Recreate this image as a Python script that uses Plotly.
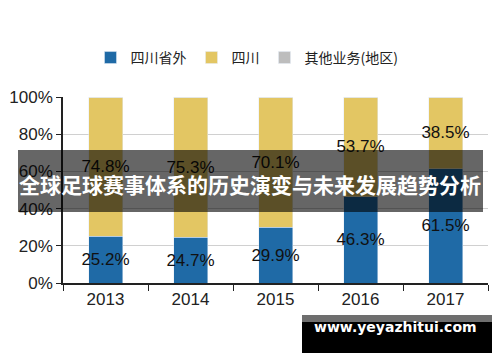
import plotly.graph_objects as go

years = ["2013", "2014", "2015", "2016", "2017"]
outside = [25.2, 24.7, 29.9, 46.3, 61.5]
sichuan = [74.8, 75.3, 70.1, 53.7, 38.5]
other = [0, 0, 0, 0, 0]
names = ["四川省外", "四川", "其他业务(地区)"]
title_text = "全球足球赛事体系的历史演变与未来发展趋势分析"
watermark = "www.yeyazhitui.com"

BLUE = "#1F6AA6"
YELLOW = "#E3C663"
GRAY = "#BDBDBD"
FONT = "Liberation Sans, Arial, sans-serif"

fig = go.Figure()
fig.add_trace(go.Bar(x=years, y=[v / 100 for v in outside], name=names[0], marker_color=BLUE,
                     text=[f"{v:.1f}%" for v in outside], textposition="inside", textangle=0,
                     constraintext="none", cliponaxis=False,
                     insidetextanchor="middle", textfont=dict(color="#111", size=17, family=FONT)))
fig.add_trace(go.Bar(x=years, y=[v / 100 for v in sichuan], name=names[1], marker_color=YELLOW,
                     text=[f"{v:.1f}%" for v in sichuan], textposition="inside", textangle=0,
                     constraintext="none", cliponaxis=False,
                     insidetextanchor="middle", textfont=dict(color="#111", size=17, family=FONT)))
fig.add_trace(go.Bar(x=years, y=other, name=names[2], marker_color=GRAY, hoverinfo="skip"))

fig.update_layout(
    barmode="stack",
    bargap=0.6,
    width=500, height=362,
    margin=dict(l=63, r=12, t=97, b=79, autoexpand=False),
    plot_bgcolor="white", paper_bgcolor="white",
    uniformtext=dict(mode=False),
    legend=dict(orientation="h", x=(247 - 63) / 425, xanchor="center", y=1.21, yanchor="middle",
                font=dict(family="Noto Sans CJK SC", size=14, color="#222"),
                itemwidth=30, traceorder="normal"),
    showlegend=True,
)
fig.update_yaxes(range=[0, 1], tickvals=[0, 0.2, 0.4, 0.6, 0.8, 1.0],
                 ticktext=["0%", "20%", "40%", "60%", "80%", "100%"],
                 showgrid=True, gridcolor="#D0D0D0", gridwidth=1,
                 showline=True, linecolor="#222", linewidth=1.5,
                 ticks="outside", ticklen=5, tickcolor="#222",
                 tickfont=dict(family=FONT, size=17, color="#222"), zeroline=False)
fig.update_xaxes(showline=True, linecolor="#222", linewidth=1.5,
                 ticks="outside", tickson="boundaries", ticklen=6, tickcolor="#222",
                 tickfont=dict(family=FONT, size=17, color="#222"))

# dark overlay band with title
fig.add_shape(type="rect", xref="paper", yref="paper", x0=(18 - 63) / 425, x1=(483 - 63) / 425,
              y0=(283 - 212) / 186, y1=(283 - 150) / 186, fillcolor="rgba(0,0,0,0.6)",
              line_width=0, layer="above")
fig.add_annotation(text=title_text, xref="paper", yref="paper",
                   x=(250 - 63) / 425, y=(283 - 184) / 186, showarrow=False,
                   font=dict(family="Noto Sans CJK SC", size=21, color="white", weight="bold"))

# watermark
fig.add_shape(type="rect", xref="paper", yref="paper", x0=(302 - 63) / 425, x1=(492 - 63) / 425,
              y0=(283 - 353) / 186, y1=(283 - 322) / 186, fillcolor="black", line_width=0, layer="above")
fig.add_shape(type="rect", xref="paper", yref="paper", x0=(302 - 63) / 425, x1=(492 - 63) / 425,
              y0=(283 - 322) / 186, y1=(283 - 315) / 186, fillcolor="#6E6E6E", line_width=0, layer="above")
fig.add_annotation(text=watermark, xref="paper", yref="paper", xanchor="left",
                   x=(312 - 63) / 425, y=(283 - 337) / 186, showarrow=False,
                   font=dict(family="DejaVu Sans", size=14, color="white", weight="bold"))

fig.write_html("out.html", config={"displayModeBar": False},
               post_script="document.body.style.margin='0';document.body.style.padding='0';")
